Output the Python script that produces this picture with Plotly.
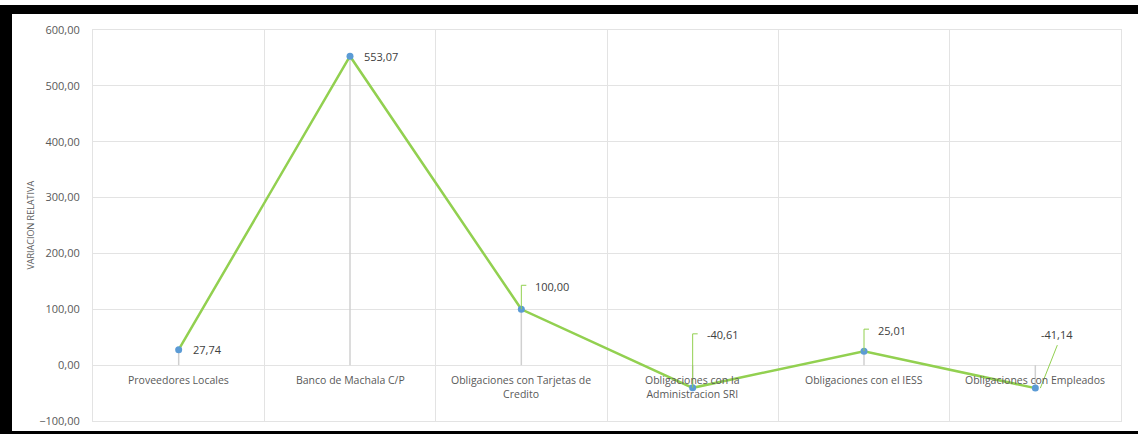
import plotly.graph_objects as go

# Relative variation per liability account
categories = [
    "Proveedores Locales",
    "Banco de Machala C/P",
    "Obligaciones con Tarjetas de<br>Credito",
    "Obligaciones con la<br>Administracion SRI",
    "Obligaciones con el IESS",
    "Obligaciones con Empleados",
]
values = [27.74, 553.07, 100.00, -40.61, 25.01, -41.14]
y_ticks = [-100, 0, 100, 200, 300, 400, 500, 600]

# Label placement (pixel offsets from each point) and leader-line paths
label_offsets = [(12, 0, "left"), (12, 0, "left"), (12, 23, "left"),
                 (12, 53, "left"), (12, 21, "left"), (22, 54, "center")]
leader_paths = [None, None, "M0,0 L0,24 L5,24", "M0,0 L0,54 L5,54",
                "M0,0 L0,22 L5,22", "M5,0 L22,43"]

GRID = "#e3e3e3"
TEXT = "#595959"
FONT = "Open Sans"

x = list(range(len(categories)))
fig = go.Figure()

# Drop lines from each point to the category axis
drop_x, drop_y = [], []
for i, v in zip(x, values):
    drop_x += [i, i, None]
    drop_y += [0, v, None]
fig.add_trace(go.Scatter(x=drop_x, y=drop_y, mode="lines",
                         line=dict(color="#d0d0d0", width=1.5),
                         hoverinfo="skip", showlegend=False))

fig.add_trace(go.Scatter(x=x, y=values, mode="lines+markers",
                         line=dict(color="#92D050", width=2.5),
                         marker=dict(color="#5B9BD5", size=7),
                         showlegend=False))

annotations = []
shapes = []
for i, (v, (dx, dy, anchor), path) in enumerate(zip(values, label_offsets, leader_paths)):
    annotations.append(dict(x=i, y=v, xref="x", yref="y",
                            text=f"{v:.2f}".replace(".", ","),
                            showarrow=False, xanchor=anchor, yanchor="middle",
                            xshift=dx, yshift=dy,
                            font=dict(family=FONT, size=11, color="#404040")))
    if path:
        shapes.append(dict(type="path", xref="x", yref="y",
                           xsizemode="pixel", ysizemode="pixel",
                           xanchor=i, yanchor=v, path=path,
                           line=dict(color="#92D050", width=1)))

# Category labels sit just under the zero line
for i, c in enumerate(categories):
    annotations.append(dict(x=i, y=0, xref="x", yref="y", text=c,
                            showarrow=False, xanchor="center", yanchor="top",
                            yshift=-6, align="center",
                            font=dict(family=FONT, size=10.5, color=TEXT)))

annotations.append(dict(x=0, y=0.5, xref="paper", yref="paper",
                        text="VARIACION RELATIVA", textangle=-90,
                        showarrow=False, xanchor="center", yanchor="middle",
                        xshift=-63,
                        font=dict(family=FONT, size=9, color=TEXT)))

# Black frame around the page
shapes += [
    dict(type="rect", xref="paper", yref="paper", x0=-93 / 1028, x1=(1138 - 93) / 1028,
         y0=(391 + 30 - 5) / 391, y1=(391 + 30 - 14) / 391,
         fillcolor="black", line=dict(width=0), layer="above"),
    dict(type="rect", xref="paper", yref="paper", x0=-93 / 1028, x1=-81 / 1028,
         y0=-13 / 391, y1=(391 + 30 - 5) / 391,
         fillcolor="black", line=dict(width=0), layer="above"),
    dict(type="rect", xref="paper", yref="paper", x0=-93 / 1028, x1=(1138 - 93) / 1028,
         y0=-13 / 391, y1=-10 / 391,
         fillcolor="black", line=dict(width=0), layer="above"),
]

fig.update_layout(
    width=1138, height=434,
    margin=dict(l=93, r=17, t=30, b=13, autoexpand=False),
    paper_bgcolor="white", plot_bgcolor="white",
    separators=",.",
    annotations=annotations, shapes=shapes,
    xaxis=dict(range=[-0.5, len(categories) - 0.5],
               tickvals=[i - 0.5 for i in range(len(categories) + 1)],
               showticklabels=False, showgrid=True, gridcolor=GRID, gridwidth=1,
               zeroline=False, showline=True, linecolor=GRID, linewidth=1,
               mirror=True, ticks="", automargin=False),
    yaxis=dict(range=[-100, 600], tickvals=y_ticks, tickformat=".2f",
               showgrid=True, gridcolor=GRID, gridwidth=1,
               zeroline=False, showline=True, linecolor=GRID, linewidth=1,
               mirror=True, ticks="", automargin=False,
               ticklabelstandoff=10,
               tickfont=dict(family=FONT, size=11, color=TEXT)),
)

fig.write_html("out.html")
